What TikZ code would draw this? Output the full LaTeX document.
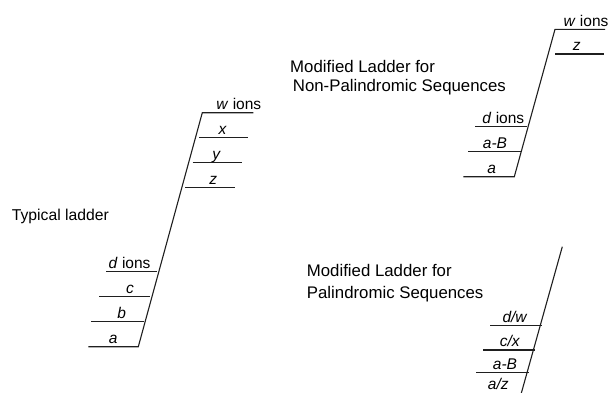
\documentclass[tikz,border=0pt]{standalone}
\usepackage{fontspec}
\setmainfont{Liberation Sans}
\begin{document}
\begin{tikzpicture}[x=1pt,y=-1pt,
  rail/.style={draw=black!88, line width=1.1pt, line join=miter},
  rung/.style={draw=black!88, line width=1.1pt},
  ionlbl/.style={anchor=base, inner sep=0pt, font=\fontsize{15.5}{18}\selectfont},
  title/.style={anchor=base west, inner sep=0pt, font=\fontsize{16.8}{20}\selectfont},
  ttl/.style={anchor=base west, inner sep=0pt, font=\fontsize{15.7}{19}\selectfont}]
\useasboundingbox (0,0) rectangle (612,392);

% ---------- Typical ladder ----------
\node[ttl] (typ) at (11.7,220) {Typical ladder};
\coordinate (t1top) at (202.3,112.7);
\coordinate (t1bot) at (138.3,346.7);
\coordinate (t1w) at (253.3,112.7);
\coordinate (t1a) at (88.3,346.7);
\draw[rail] (t1w) -- (t1top) -- (t1bot) -- (t1a);
\coordinate (t1xL) at (199.3,137.7); \coordinate (t1xR) at (248.3,137.7);
\coordinate (t1yL) at (192.7,162.7); \coordinate (t1yR) at (241.7,162.7);
\coordinate (t1zL) at (185,187.7);   \coordinate (t1zR) at (235,187.7);
\coordinate (t1dL) at (106,271.7);   \coordinate (t1dR) at (157,271.7);
\coordinate (t1cL) at (99,296.7);    \coordinate (t1cR) at (150,296.7);
\coordinate (t1bL) at (91,321.7);    \coordinate (t1bR) at (143.5,321.7);
\draw[rung] (t1xL) -- (t1xR);
\draw[rung] (t1yL) -- (t1yR);
\draw[rung] (t1zL) -- (t1zR);
\draw[rung] (t1dL) -- (t1dR);
\draw[rung] (t1cL) -- (t1cR);
\draw[rung] (t1bL) -- (t1bR);
\node[ionlbl] (t1wl) at (238.8,109) {\textit{w} ions};
\node[ionlbl] (t1xl) at (222.7,134) {\textit{x}};
\node[ionlbl] (t1yl) at (216.7,159) {\textit{y}};
\node[ionlbl] (t1zl) at (213.3,184) {\textit{z}};
\node[ionlbl] (t1dl) at (129.6,268) {\textit{d} ions};
\node[ionlbl] (t1cl) at (130,293) {\textit{c}};
\node[ionlbl] (t1bl) at (121.7,318) {\textit{b}};
\node[ionlbl] (t1al) at (113.3,343) {\textit{a}};

% ---------- Non-palindromic ----------
\node[title] (np1) at (290,72.7) {Modified Ladder for};
\node[title] (np2) at (292.7,91) {Non-Palindromic Sequences};
\coordinate (t2top) at (555,29.3);
\coordinate (t2bot) at (514.3,176.7);
\coordinate (t2w) at (605,29.3);
\coordinate (t2a) at (463.3,176.7);
\draw[rail] (t2w) -- (t2top) -- (t2bot) -- (t2a);
\coordinate (t2zL) at (555,54);    \coordinate (t2zR) at (604.3,54);
\coordinate (t2dL) at (475,126.7); \coordinate (t2dR) at (527,126.7);
\coordinate (t2BL) at (468.3,151.7); \coordinate (t2BR) at (520.5,151.7);
\draw[rung] (t2zL) -- (t2zR);
\draw[rung] (t2dL) -- (t2dR);
\draw[rung] (t2BL) -- (t2BR);
\node[ionlbl] (t2wl) at (586,26) {\textit{w} ions};
\node[ionlbl] (t2zl) at (576.7,50.5) {\textit{z}};
\node[ionlbl] (t2dl) at (503.3,123) {\textit{d} ions};
\node[ionlbl] (t2Bl) at (495,148) {\textit{a-B}};
\node[ionlbl] (t2al) at (491.7,173) {\textit{a}};

% ---------- Palindromic ----------
\node[title] (p1) at (306.7,276.7) {Modified Ladder for};
\node[title] (p2) at (306.7,298) {Palindromic Sequences};
\coordinate (t3top) at (562.3,246.7);
\coordinate (t3bot) at (520.5,396);
\draw[rail] (t3top) -- (t3bot);
\coordinate (t3dL) at (490,325.7);   \coordinate (t3dR) at (542,325.7);
\coordinate (t3cL) at (483.3,350);   \coordinate (t3cR) at (535,350);
\coordinate (t3BL) at (476,372.3);   \coordinate (t3BR) at (528.5,372.3);
\draw[rung] (t3dL) -- (t3dR);
\draw[rung] (t3cL) -- (t3cR);
\draw[rung] (t3BL) -- (t3BR);
\node[ionlbl] (t3dl) at (515,322) {\textit{d/w}};
\node[ionlbl] (t3cl) at (510,346.5) {\textit{c/x}};
\node[ionlbl] (t3Bl) at (505,369) {\textit{a-B}};
\node[ionlbl] (t3zl) at (498.3,389.5) {\textit{a/z}};
\end{tikzpicture}
\end{document}
